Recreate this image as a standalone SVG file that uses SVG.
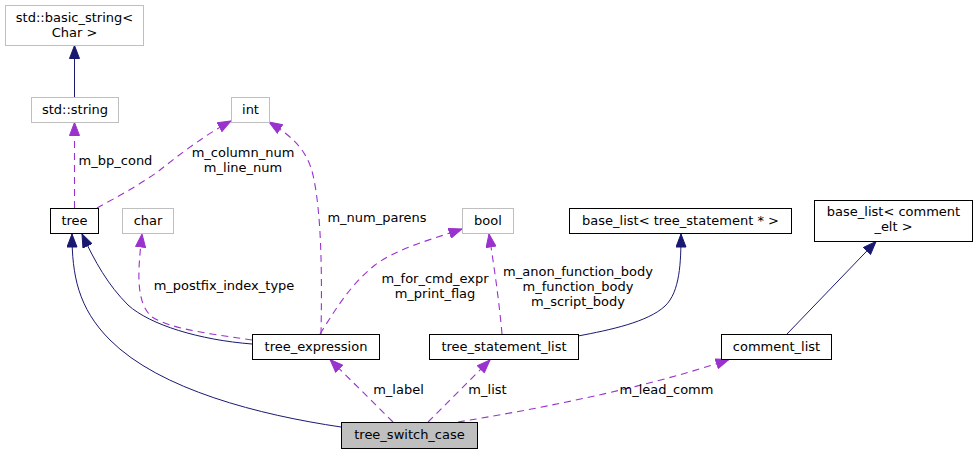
<svg xmlns="http://www.w3.org/2000/svg" width="977" height="455" viewBox="0 0 977 455">
<style>
text{font-family:"DejaVu Sans","Liberation Sans",sans-serif;font-size:13px;fill:#000;text-anchor:middle}
.n rect{fill:#fff;stroke:#000;stroke-width:1}
.n.ext rect{stroke:#bfbfbf}
.n.root rect{fill:#bfbfbf;stroke:#000}
.inh{fill:none;stroke:#191970;stroke-width:1;marker-end:url(#an)}
.use{fill:none;stroke:#9a32cd;stroke-width:1.1;stroke-dasharray:7,5;marker-end:url(#ap)}
</style>
<defs>
<marker id="an" markerUnits="userSpaceOnUse" markerWidth="14" markerHeight="11" viewBox="-0.5 -0.5 14 11" refX="13" refY="5" orient="auto"><path d="M0,0 L13,5 L0,10 z" fill="#191970" stroke="#191970"/></marker>
<marker id="ap" markerUnits="userSpaceOnUse" markerWidth="14" markerHeight="11" viewBox="-0.5 -0.5 14 11" refX="13" refY="5" orient="auto"><path d="M0,0 L13,5 L0,10 z" fill="#9a32cd" stroke="#9a32cd"/></marker>
</defs>
<g id="edges">
<path class="inh" d="M74.5,97 L74.5,45.5"/>
<path class="use" d="M74.5,208 L74.5,122.5"/>
<text x="115.5" y="164.5">m_bp_cond</text>
<path class="use" d="M97,208 C115,198 140,185 160,170 C180,154 205,135 231,121"/>
<text x="243" y="157">m_column_num</text>
<text x="243" y="172">m_line_num</text>
<path class="use" d="M321,334 C322,280 322,215 313,175 C307,150 293,137 269,122"/>
<text x="377" y="222">m_num_parens</text>
<path class="use" d="M252,340 C220,335 172,330 152,317 C135,302 138,270 142,234"/>
<text x="224" y="290">m_postfix_index_type</text>
<path class="inh" d="M252,344 C200,340 150,325 128,305 C108,285 95,262 82,234"/>
<path class="inh" d="M341,427 C260,415 160,390 110,340 C78,308 72,275 72,234"/>
<path class="use" d="M320,334 C335,310 350,285 375,265 C398,248 430,240 462,229"/>
<text x="435" y="283">m_for_cmd_expr</text>
<text x="435" y="297.5">m_print_flag</text>
<path class="use" d="M502,334 C499,300 494,266 489,234"/>
<text x="578" y="276">m_anon_function_body</text>
<text x="578" y="291">m_function_body</text>
<text x="578" y="305.5">m_script_body</text>
<path class="inh" d="M578,336 C610,330 648,322 665,306 C680,292 681,262 681,234"/>
<path class="inh" d="M787,334 L876,241.5"/>
<path class="use" d="M393,422 L330,359.5"/>
<text x="398.5" y="394">m_label</text>
<path class="use" d="M428,422 L490,360"/>
<text x="487.5" y="394">m_list</text>
<path class="use" d="M458,422 C520,412 640,390 729,359.5"/>
<text x="666.5" y="394">m_lead_comm</text>
</g>
<g id="node_basic_string" class="n ext"><rect x="5.5" y="5.5" width="138" height="40"/><text x="74.5" y="21.5">std::basic_string&lt;</text><text x="74.5" y="36.5">Char &gt;</text></g>
<g id="node_std_string" class="n ext"><rect x="31.5" y="97.5" width="87" height="25"/><text x="75" y="114">std::string</text></g>
<g id="node_int" class="n ext"><rect x="231.5" y="97.5" width="38" height="25"/><text x="250.5" y="114">int</text></g>
<g id="node_tree" class="n"><rect x="50.5" y="208.5" width="48" height="25"/><text x="74.5" y="225">tree</text></g>
<g id="node_char" class="n ext"><rect x="122.5" y="208.5" width="51" height="25"/><text x="148" y="225">char</text></g>
<g id="node_bool" class="n ext"><rect x="462.5" y="208.5" width="51" height="25"/><text x="488" y="225">bool</text></g>
<g id="node_base_list_ts" class="n"><rect x="569.5" y="208.5" width="222" height="25"/><text x="680.5" y="225">base_list&lt; tree_statement * &gt;</text></g>
<g id="node_base_list_ce" class="n"><rect x="814.5" y="200.5" width="158" height="41"/><text x="893.5" y="216">base_list&lt; comment</text><text x="893.5" y="231">_elt &gt;</text></g>
<g id="node_comment_list" class="n"><rect x="721.5" y="334.5" width="110" height="25"/><text x="776.5" y="351">comment_list</text></g>
<g id="node_tree_statement_list" class="n"><rect x="429.5" y="334.5" width="149" height="25"/><text x="504" y="351">tree_statement_list</text></g>
<g id="node_tree_expression" class="n"><rect x="252.5" y="334.5" width="127" height="25"/><text x="316" y="351">tree_expression</text></g>
<g id="node_tree_switch_case" class="n root"><rect x="341.5" y="422.5" width="136" height="26"/><text x="409.5" y="439">tree_switch_case</text></g>
</svg>
